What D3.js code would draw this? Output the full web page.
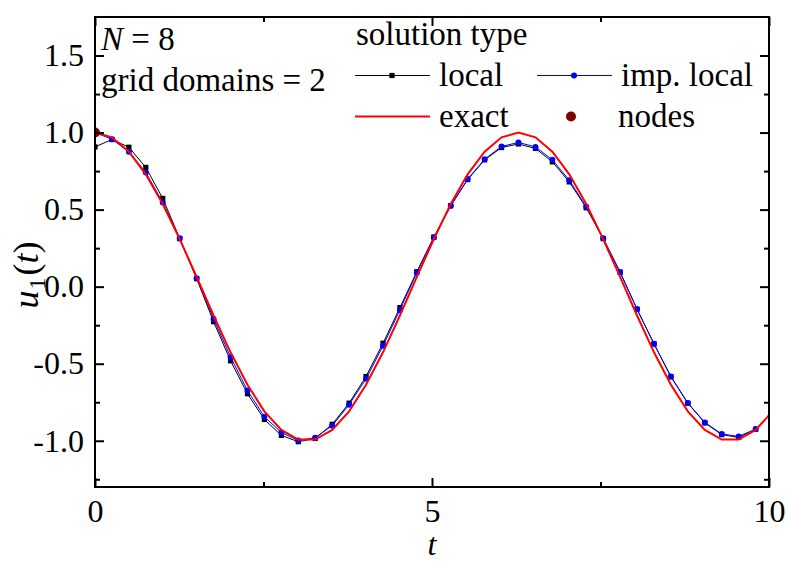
<!DOCTYPE html>
<html>
<head>
<meta charset="utf-8">
<script src="https://cdn.jsdelivr.net/npm/d3@7"></script>
<style>
  body { margin: 0; background: #fff; }
  text { font-family: "Liberation Serif", "Times New Roman", serif; fill: #000; }
</style>
</head>
<body>
<script>
// grid points t_k (step 2*pi/25)
var tValues = [0, 0.251, 0.503, 0.754, 1.005, 1.257, 1.508, 1.759, 2.011, 2.262,
  2.513, 2.765, 3.016, 3.267, 3.519, 3.770, 4.021, 4.273, 4.524, 4.775,
  5.027, 5.278, 5.529, 5.781, 6.032, 6.283, 6.535, 6.786, 7.037, 7.288,
  7.540, 7.791, 8.042, 8.294, 8.545, 8.796, 9.048, 9.299, 9.550, 9.802, 10.053];

// solution type: local (black squares)
var localValues = [0.907, 0.955, 0.905, 0.774, 0.573, 0.312, 0.052, -0.227, -0.481, -0.695,
  -0.862, -0.965, -1.006, -0.985, -0.893, -0.756, -0.583, -0.367, -0.136, 0.097,
  0.322, 0.525, 0.695, 0.823, 0.903, 0.926, 0.897, 0.810, 0.680, 0.512,
  0.312, 0.093, -0.146, -0.372, -0.585, -0.757, -0.884, -0.960, -0.978, -0.926];

// imp. local (blue circles)
var impLocalValues = [1.0, 0.957, 0.875, 0.741, 0.547, 0.314, 0.054, -0.209, -0.457, -0.674,
  -0.844, -0.946, -0.998, -0.980, -0.902, -0.766, -0.598, -0.384, -0.151, 0.091,
  0.319, 0.525, 0.698, 0.827, 0.910, 0.936, 0.907, 0.823, 0.691, 0.518,
  0.314, 0.095, -0.146, -0.371, -0.583, -0.755, -0.881, -0.956, -0.972, -0.924];

// exact (red line)
var exactValues = [1, 0.969, 0.876, 0.729, 0.536, 0.309, 0.063, -0.187, -0.426, -0.637,
  -0.809, -0.930, -0.992, -0.992, -0.930, -0.809, -0.637, -0.426, -0.187, 0.063,
  0.309, 0.536, 0.729, 0.876, 0.969, 1, 0.969, 0.876, 0.729, 0.536,
  0.309, 0.063, -0.187, -0.426, -0.637, -0.809, -0.930, -0.992, -0.992, -0.930, -0.809];

// nodes
var nodeT = [0];
var nodeValues = [1.0];

var xTicks = [0, 5, 10];
var xTickLabels = ["0", "5", "10"];
var xMinor = [2.5, 7.5];
var yTicks = [-1.0, -0.5, 0.0, 0.5, 1.0, 1.5];
var yTickLabels = ["-1.0", "-0.5", "0.0", "0.5", "1.0", "1.5"];
var yMinor = [-1.25, -0.75, -0.25, 0.25, 0.75, 1.25];

var W = 793, H = 561;
var pLeft = 95, pRight = 769, pTop = 17, pBottom = 487;

var svg = d3.select("body").append("svg")
  .attr("width", W)
  .attr("height", H);

var x = d3.scaleLinear().domain([0, 10]).range([pLeft, pRight]);
var y = d3.scaleLinear().domain([-1.3, 1.75]).range([pBottom, pTop]);

svg.append("clipPath").attr("id", "plotclip")
  .append("rect")
  .attr("x", pLeft).attr("y", pTop)
  .attr("width", pRight - pLeft).attr("height", pBottom - pTop);

var plot = svg.append("g").attr("clip-path", "url(#plotclip)");

function pts(vals) {
  return vals.map(function (v, i) { return [tValues[i], v]; });
}
var line = d3.line().x(function (d) { return x(d[0]); }).y(function (d) { return y(d[1]); });

// local
plot.append("path").datum(pts(localValues))
  .attr("d", line).attr("fill", "none").attr("stroke", "#000").attr("stroke-width", 1);
plot.selectAll("rect.local").data(pts(localValues)).enter().append("rect")
  .attr("class", "local")
  .attr("x", function (d) { return x(d[0]) - 2.6; })
  .attr("y", function (d) { return y(d[1]) - 2.6; })
  .attr("width", 5.2).attr("height", 5.2)
  .attr("fill", "#000");

// imp. local
plot.append("path").datum(pts(impLocalValues))
  .attr("d", line).attr("fill", "none").attr("stroke", "#0000ff").attr("stroke-width", 1);
plot.selectAll("circle.imp").data(pts(impLocalValues)).enter().append("circle")
  .attr("class", "imp")
  .attr("cx", function (d) { return x(d[0]); })
  .attr("cy", function (d) { return y(d[1]); })
  .attr("r", 3)
  .attr("fill", "#0000ff");

// exact
plot.append("path").datum(pts(exactValues))
  .attr("d", line).attr("fill", "none").attr("stroke", "#ff0000").attr("stroke-width", 2);

// nodes
plot.selectAll("circle.node").data(nodeT).enter().append("circle")
  .attr("class", "node")
  .attr("cx", function (d) { return x(d); })
  .attr("cy", function (d, i) { return y(nodeValues[i]); })
  .attr("r", 5)
  .attr("fill", "#800000");

// axes, ticks pointing inward
function styleAxis(g) {
  g.select(".domain").remove();
  g.selectAll("line").attr("stroke", "#000").attr("stroke-width", 2);
  g.selectAll("text").attr("font-size", "32px")
    .attr("font-family", "'Liberation Serif', 'Times New Roman', serif");
}

svg.append("g").attr("transform", "translate(0," + pBottom + ")")
  .call(d3.axisBottom(x).tickValues(xTicks).tickSize(-9).tickPadding(12)
    .tickFormat(function (d, i) { return xTickLabels[i]; }))
  .call(styleAxis);
svg.append("g").attr("transform", "translate(0," + pBottom + ")")
  .call(d3.axisBottom(x).tickValues(xMinor).tickSize(-5).tickFormat(""))
  .call(styleAxis);
svg.append("g").attr("transform", "translate(0," + pTop + ")")
  .call(d3.axisTop(x).tickValues(xTicks).tickSize(-9).tickFormat(""))
  .call(styleAxis);
svg.append("g").attr("transform", "translate(0," + pTop + ")")
  .call(d3.axisTop(x).tickValues(xMinor).tickSize(-5).tickFormat(""))
  .call(styleAxis);

svg.append("g").attr("transform", "translate(" + pLeft + ",0)")
  .call(d3.axisLeft(y).tickValues(yTicks).tickSize(-9).tickPadding(11)
    .tickFormat(function (d, i) { return yTickLabels[i]; }))
  .call(styleAxis);
svg.append("g").attr("transform", "translate(" + pLeft + ",0)")
  .call(d3.axisLeft(y).tickValues(yMinor).tickSize(-5).tickFormat(""))
  .call(styleAxis);
svg.append("g").attr("transform", "translate(" + pRight + ",0)")
  .call(d3.axisRight(y).tickValues(yTicks).tickSize(-9).tickFormat(""))
  .call(styleAxis);
svg.append("g").attr("transform", "translate(" + pRight + ",0)")
  .call(d3.axisRight(y).tickValues(yMinor).tickSize(-5).tickFormat(""))
  .call(styleAxis);

// frame
svg.append("rect")
  .attr("x", pLeft).attr("y", pTop)
  .attr("width", pRight - pLeft).attr("height", pBottom - pTop)
  .attr("fill", "none").attr("stroke", "#000").attr("stroke-width", 2);

// axis titles
svg.append("text")
  .attr("x", (pLeft + pRight) / 2).attr("y", 555)
  .attr("text-anchor", "middle")
  .attr("font-size", "32px").attr("font-style", "italic")
  .text("t");

var yl = svg.append("text")
  .attr("transform", "translate(38," + 275 + ") rotate(-90)")
  .attr("text-anchor", "middle")
  .attr("font-size", "36px");
yl.append("tspan").attr("font-style", "italic").text("u");
yl.append("tspan").attr("font-size", "24px").attr("dy", 7).attr("dx", 1).text("1");
yl.append("tspan").attr("dy", -7).attr("dx", 2).text("(");
yl.append("tspan").attr("font-style", "italic").text("t");
yl.append("tspan").text(")");

// annotation top-left
var ann = svg.append("text").attr("x", 101).attr("y", 50).attr("font-size", "33px");
ann.append("tspan").attr("font-style", "italic").text("N");
ann.append("tspan").text(" = 8");
svg.append("text").attr("x", 101).attr("y", 91).attr("font-size", "33px")
  .text("grid domains = 2");

// legend
var lg = svg.append("g");
lg.append("text").attr("x", 356).attr("y", 45).attr("font-size", "33px").text("solution type");

// local
lg.append("line").attr("x1", 355).attr("x2", 430).attr("y1", 75.5).attr("y2", 75.5)
  .attr("stroke", "#000").attr("stroke-width", 1);
lg.append("rect").attr("x", 392 - 2.6).attr("y", 75.5 - 2.6).attr("width", 5.2).attr("height", 5.2)
  .attr("fill", "#000");
lg.append("text").attr("x", 439).attr("y", 86).attr("font-size", "33px").text("local");

// imp. local
lg.append("line").attr("x1", 537).attr("x2", 612).attr("y1", 75.5).attr("y2", 75.5)
  .attr("stroke", "#0000ff").attr("stroke-width", 1);
lg.append("circle").attr("cx", 574).attr("cy", 75.5).attr("r", 3).attr("fill", "#0000ff");
lg.append("text").attr("x", 621).attr("y", 86).attr("font-size", "33px").text("imp. local");

// exact
lg.append("line").attr("x1", 355).attr("x2", 430).attr("y1", 116.5).attr("y2", 116.5)
  .attr("stroke", "#ff0000").attr("stroke-width", 2);
lg.append("text").attr("x", 439).attr("y", 127).attr("font-size", "33px").text("exact");

// nodes
lg.append("circle").attr("cx", 571).attr("cy", 116.5).attr("r", 5).attr("fill", "#800000");
lg.append("text").attr("x", 618).attr("y", 127).attr("font-size", "33px").text("nodes");
</script>
</body>
</html>
